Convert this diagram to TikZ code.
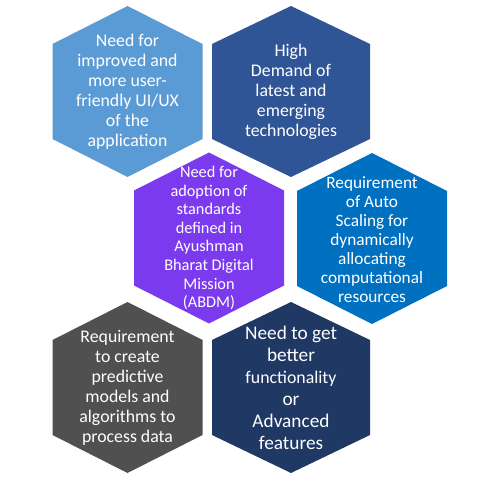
\documentclass[tikz,border=0pt]{standalone}
\usepackage{fontspec}
\setmainfont{Carlito}
\usepackage{tikz}
\usetikzlibrary{positioning}

\definecolor{hexsky}{HTML}{5B9BD5}
\definecolor{hexroyal}{HTML}{2F5597}
\definecolor{hexviolet}{HTML}{7C3AEE}
\definecolor{hexazure}{HTML}{0070C0}
\definecolor{hexgrey}{HTML}{505050}
\definecolor{hexnavy}{HTML}{203864}

\begin{document}
\begin{tikzpicture}[
    x=1pt, y=1pt,
    cell/.style={text=white, align=center, inner sep=0pt, font=\fontsize{17.8}{20}\selectfont},
    small cell/.style={cell, font=\fontsize{16.3}{18.6}\selectfont},
    mid cell/.style={cell, font=\fontsize{17.3}{19}\selectfont},
    wide cell/.style={cell, font=\fontsize{19.3}{22}\selectfont},
    pics/hexa/.style 2 args={code={
        \fill[#1] (0,85.5) -- (#2,47.5) -- (#2,-47.5) -- (0,-85.5) -- (-#2,-47.5) -- (-#2,47.5) -- cycle;
    }}
]
\useasboundingbox (0,0) rectangle (487,482);

% hexagons
\pic at (127.5,390.5) {hexa={hexsky}{75}};
\pic at (291,390.5) {hexa={hexroyal}{79}};
\pic at (209,244) {hexa={hexviolet}{75}};
\pic at (372,243.5) {hexa={hexazure}{75}};
\pic at (127.5,94.5) {hexa={hexgrey}{75}};
\pic at (291,94.5) {hexa={hexnavy}{79}};

% texts
\node[cell] (uiux) at (127.5,390.5) {Need for\\improved and\\more user-\\friendly UI/UX\\of the\\application};
\node[cell] (demand) at (291,390.5) {High\\Demand of\\latest and\\emerging\\technologies};
\node[small cell] (abdm) at (209,244) {Need for\\adoption of\\standards\\defined in\\Ayushman\\Bharat Digital\\Mission\\(ABDM)};
\node[mid cell] (scaling) at (372,242.5) {Requirement\\of Auto\\Scaling for\\dynamically\\allocating\\computational\\resources};
\node[cell] (predict) at (127.5,94.5) {Requirement\\to create\\predictive\\models and\\algorithms to\\process data};
\node[wide cell] (features) at (291,94.5) {Need to get\\better\\{\fontsize{17.8}{22}\selectfont functionality}\\or\\Advanced\\features};
\end{tikzpicture}
\end{document}
